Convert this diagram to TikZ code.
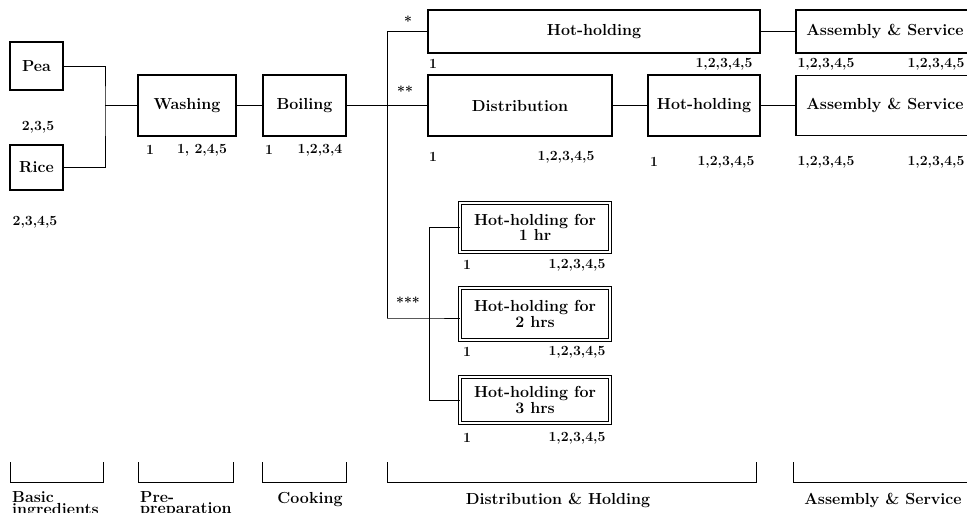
\documentclass[tikz,border=0pt]{standalone}
\usepackage{fontspec}
\begin{document}
\begin{tikzpicture}[x=1pt,y=-1pt,
  box/.style={draw,line width=1.6pt,inner sep=0pt,font=\fontsize{16}{16}\selectfont\bfseries},
  dbox/.style={draw,line width=0.9pt,double,double distance=1.5pt,inner sep=0pt,align=center,
     font=\fontsize{16}{11}\selectfont\bfseries},
  num/.style={inner sep=0pt,font=\fontsize{14}{14}\selectfont\bfseries},
  lab/.style={inner sep=0pt,font=\fontsize{16}{11}\selectfont\bfseries,align=left},
  conn/.style={line width=0.8pt},
  brk/.style={line width=0.8pt}]
\useasboundingbox (0,0) rectangle (967,512);
% boxes
\node[box,minimum width=53pt,minimum height=48pt] (pea) at (36.5,66) {Pea};
\node[box,minimum width=53pt,minimum height=45pt] (rice) at (36.5,167.5) {Rice};
\node[box,minimum width=98pt,minimum height=61pt] (wash) at (187,105.5) {Washing};
\node[box,minimum width=83pt,minimum height=61pt] (boil) at (304.5,105.5) {Boiling};
\node[box,minimum width=332pt,minimum height=43pt] (hh1) at (594,31.5) {Hot-holding};
\node[box,minimum width=178pt,minimum height=43pt] (as1) at (885,31.5) {Assembly \& Service};
\node[box,minimum width=184pt,minimum height=61pt] (dist) at (520,105.5) {Distribution};
\node[box,minimum width=112pt,minimum height=61pt] (hh2) at (704,105.5) {Hot-holding};
\node[box,minimum width=178pt,minimum height=60pt] (as2) at (885,105.5) {Assembly \& Service};
\node[dbox,minimum width=150pt,minimum height=49pt] (h1) at (535,227.5) {Hot-holding for\\1 hr};
\node[dbox,minimum width=150pt,minimum height=52pt] (h2) at (535,314) {Hot-holding for\\2 hrs};
\node[dbox,minimum width=150pt,minimum height=46pt] (h3) at (535,400) {Hot-holding for\\3 hrs};
% junction coordinates
\coordinate (j) at (105,105.5);
\coordinate (t1) at (387,31.5);
\coordinate (b) at (387,105.5);
\coordinate (t3) at (387,318);
\coordinate (v1) at (429,227.5);
\coordinate (v3) at (429,318);
\coordinate (v4) at (429,400);
% connectors
\draw[conn] (pea.east) -| (j) |- (rice.east);
\draw[conn] (j) -- (wash.west);
\draw[conn] (wash.east) -- (boil.west);
\draw[conn] (boil.east) -- (b);
\draw[conn] (t1) -- (t3);
\draw[conn] (t1) -- (hh1.west);
\draw[conn] (b) -- (dist.west);
\draw[conn] (t3) -- (v3) -- (h2.west |- v3);
\draw[conn] (v1) -- (v4);
\draw[conn] (v1) -- (h1.west);
\draw[conn] (v4) -- (h3.west);
\draw[conn] (hh1.east) -- (as1.west);
\draw[conn] (dist.east) -- (hh2.west);
\draw[conn] (hh2.east) -- (as2.west);
% stars
\node[num] (s1) at (408,21) {*};
\node[num] (s2) at (405,91) {**};
\node[num] (s3) at (408,302) {***};
% numbers
\node[num] (n1) at (38,127) {2,3,5};
\node[num] (n2) at (35,222) {2,3,4,5};
\node[num] (n3) at (150,150) {1};
\node[num] (n4) at (202,150) {1, 2,4,5};
\node[num] (n5) at (269,150) {1};
\node[num] (n6) at (320,150) {1,2,3,4};
\node[num] (n7) at (433,64) {1};
\node[num] (n8) at (724,64) {1,2,3,4,5};
\node[num] (n9) at (826,64) {1,2,3,4,5};
\node[num] (n10) at (936,64) {1,2,3,4,5};
\node[num] (n11) at (433,157) {1};
\node[num] (n12) at (566,157) {1,2,3,4,5};
\node[num] (n13) at (654,162) {1};
\node[num] (n14) at (726,162) {1,2,3,4,5};
\node[num] (n15) at (826,162) {1,2,3,4,5};
\node[num] (n16) at (936,162) {1,2,3,4,5};
\node[num] (n17) at (467,265) {1};
\node[num] (n18) at (577,265) {1,2,3,4,5};
\node[num] (n19) at (467,352) {1};
\node[num] (n20) at (577,352) {1,2,3,4,5};
\node[num] (n21) at (467,438) {1};
\node[num] (n22) at (577,438) {1,2,3,4,5};
% brackets
\draw[brk] (10,462) -- (10,482) -- (103,482) -- (103,462);
\draw[brk] (138,462) -- (138,482) -- (233,482) -- (233,462);
\draw[brk] (262,462) -- (262,482) -- (346,482) -- (346,462);
\draw[brk] (387,462) -- (387,482) -- (756,482) -- (756,462);
\draw[brk] (793,462) -- (793,482) -- (980,482) -- (980,462);
% stage labels
\node[lab,anchor=north west] (l1) at (12,491) {Basic\\ingredients};
\node[lab,anchor=north west] (l2) at (140,491) {Pre-\\preparation};
\node[lab] (l3) at (310,500) {Cooking};
\node[lab] (l4) at (558,500) {Distribution \& Holding};
\node[lab] (l5) at (883,500) {Assembly \& Service};
\end{tikzpicture}
\end{document}
